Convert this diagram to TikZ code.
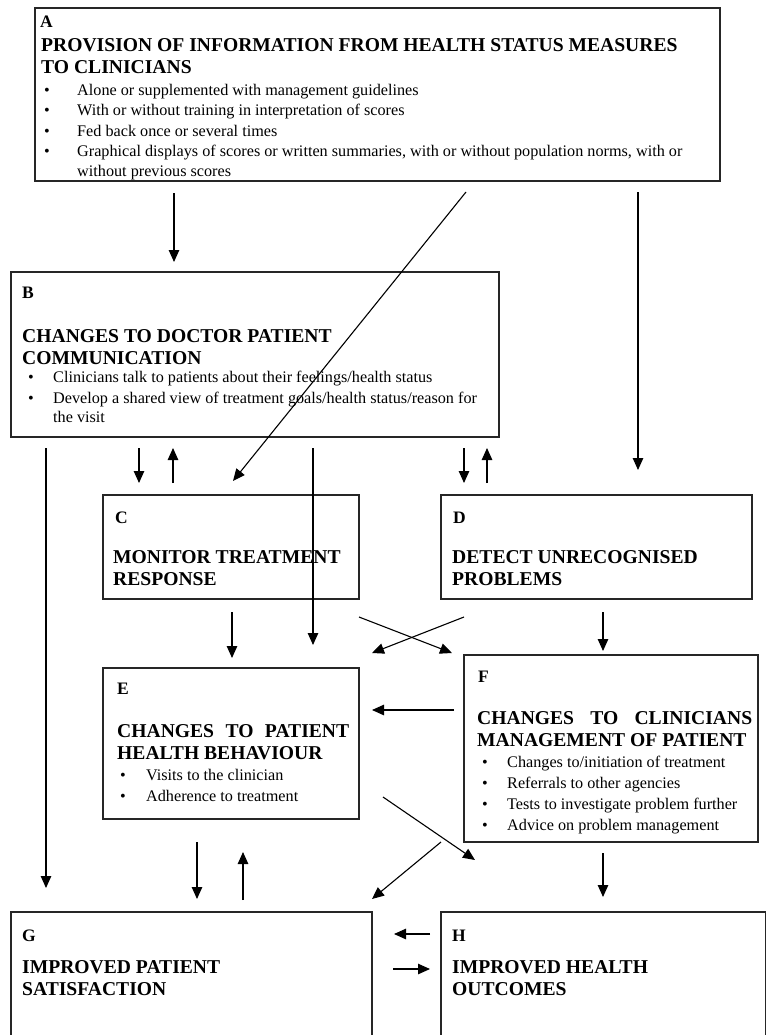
\documentclass[tikz,border=0pt]{standalone}
\usepackage{fontspec}
\setmainfont{Liberation Serif}
\usetikzlibrary{arrows.meta}
\begin{document}
\begin{tikzpicture}[x=1pt,y=-1pt,
  box/.style={draw=black!85, line width=1.4pt, inner sep=0pt, outer sep=0pt},
  arr/.style={line width=1.1pt, -{Triangle[length=12pt,width=10.5pt]}},
  tag/.style={font=\bfseries\fontsize{17.5}{18}\selectfont, anchor=base west, inner sep=0pt},
  head/.style={font=\bfseries\fontsize{19.6}{22}\selectfont, anchor=base west, inner sep=0pt},
  txt/.style={font=\fontsize{16.2}{20}\selectfont, anchor=base west, inner sep=0pt},
]
\useasboundingbox (0,0) rectangle (767,1035);

% ---------- boxes ----------
\node[box, anchor=north west, minimum width=685pt, minimum height=173pt] (A) at (35,8) {};
\node[box, anchor=north west, minimum width=488pt, minimum height=165pt] (B) at (11,272) {};
\node[box, anchor=north west, minimum width=256pt, minimum height=104pt] (C) at (103,495) {};
\node[box, anchor=north west, minimum width=311pt, minimum height=104pt] (D) at (441,495) {};
\node[box, anchor=north west, minimum width=256pt, minimum height=151pt] (E) at (103,668) {};
\node[box, anchor=north west, minimum width=294pt, minimum height=187pt] (F) at (464,655) {};
\node[box, anchor=north west, minimum width=361pt, minimum height=150pt] (G) at (11,912) {};
\node[box, anchor=north west, minimum width=324.5pt, minimum height=150pt] (H) at (441,912) {};

% ---------- A ----------
\node[tag]  (Atag) at (40,28) {A};
\node[head] (Ah1)  at (41,52) {PROVISION OF INFORMATION FROM HEALTH STATUS MEASURES};
\node[head] (Ah2)  at (41,74) {TO CLINICIANS};
\foreach \y [count=\i] in {96,116,137,157}
  \node[txt] (Adot\i) at (44,\y) {•};
\node[txt] (At1) at (77,96)  {Alone or supplemented with management guidelines};
\node[txt] (At2) at (77,116) {With or without training in interpretation of scores};
\node[txt] (At3) at (77,137) {Fed back once or several times};
\node[txt] (At4) at (77,157) {Graphical displays of scores or written summaries, with or without population norms, with or};
\begin{scope}
  \clip (36,9) rectangle (719,180);
  \node[txt] (At5) at (77,177) {without previous scores};
\end{scope}

% ---------- B ----------
\node[tag]  (Btag) at (22,298) {B};
\node[head] (Bh1)  at (22,342) {CHANGES TO DOCTOR PATIENT};
\node[head] (Bh2)  at (22,364) {COMMUNICATION};
\foreach \y [count=\i] in {382,403}
  \node[txt] (Bdot\i) at (28,\y) {•};
\node[txt] (Bt1) at (53,382) {Clinicians talk to patients about their feelings/health status};
\node[txt] (Bt2) at (53,403) {Develop a shared view of treatment goals/health status/reason for};
\node[txt] (Bt3) at (53,422) {the visit};

% ---------- C ----------
\node[tag]  (Ctag) at (115,523) {C};
\node[head] (Ch1)  at (113,563) {MONITOR TREATMENT};
\node[head] (Ch2)  at (113,585) {RESPONSE};

% ---------- D ----------
\node[tag]  (Dtag) at (453,523) {D};
\node[head] (Dh1)  at (452,563) {DETECT UNRECOGNISED};
\node[head] (Dh2)  at (452,585) {PROBLEMS};

% ---------- E ----------
\node[tag]  (Etag) at (117,694) {E};
\node[head] (Eh1)  at (117,737) {\makebox[232pt][s]{CHANGES TO PATIENT}};
\node[head] (Eh2)  at (117,759) {HEALTH BEHAVIOUR};
\foreach \y [count=\i] in {780,801}
  \node[txt] (Edot\i) at (120,\y) {•};
\node[txt] (Et1) at (146,780) {Visits to the clinician};
\node[txt] (Et2) at (146,801) {Adherence to treatment};

% ---------- F ----------
\node[tag]  (Ftag) at (478,682) {F};
\node[head] (Fh1)  at (477,724) {\makebox[275pt][s]{CHANGES TO CLINICIANS}};
\node[head] (Fh2)  at (477,746) {MANAGEMENT OF PATIENT};
\foreach \y [count=\i] in {767,788,809,830}
  \node[txt] (Fdot\i) at (482,\y) {•};
\node[txt] (Ft1) at (507,767) {Changes to/initiation of treatment};
\node[txt] (Ft2) at (507,788) {Referrals to other agencies};
\node[txt] (Ft3) at (507,809) {Tests to investigate problem further};
\node[txt] (Ft4) at (507,830) {Advice on problem management};

% ---------- G ----------
\node[tag]  (Gtag) at (22,941) {G};
\node[head] (Gh1)  at (22,973) {IMPROVED PATIENT};
\node[head] (Gh2)  at (22,995) {SATISFACTION};

% ---------- H ----------
\node[tag]  (Htag) at (452,941) {H};
\node[head] (Hh1)  at (452,973) {IMPROVED HEALTH};
\node[head] (Hh2)  at (452,995) {OUTCOMES};

% ---------- arrow end points ----------
\coordinate (ABs) at (174,193);  \coordinate (ABe) at (174,262);
\coordinate (ACs) at (466,192);  \coordinate (ACe) at (233,481);
\coordinate (ADs) at (638,192);  \coordinate (ADe) at (638,470);
\coordinate (BCs) at (139,448);  \coordinate (BCe) at (139,483);
\coordinate (CBs) at (173,483);  \coordinate (CBe) at (173,448);
\coordinate (BEs) at (313,448);  \coordinate (BEe) at (313,645);
\coordinate (BDs) at (464,448);  \coordinate (BDe) at (464,483);
\coordinate (DBs) at (487,483);  \coordinate (DBe) at (487,448);
\coordinate (BGs) at (46,448);   \coordinate (BGe) at (46,888);
\coordinate (CEs) at (232,612);  \coordinate (CEe) at (232,658);
\coordinate (CFs) at (359,617);  \coordinate (CFe) at (452,653);
\coordinate (DEs) at (464,617);  \coordinate (DEe) at (372,653);
\coordinate (DFs) at (603,612);  \coordinate (DFe) at (603,651);
\coordinate (FEs) at (454,710);  \coordinate (FEe) at (372,710);
\coordinate (EHs) at (383,797);  \coordinate (EHe) at (475,860);
\coordinate (FGs) at (441,842);  \coordinate (FGe) at (372,899);
\coordinate (FHs) at (603,853);  \coordinate (FHe) at (603,897);
\coordinate (EGs) at (197,842);  \coordinate (EGe) at (197,899);
\coordinate (GEs) at (243,900);  \coordinate (GEe) at (243,852);
\coordinate (HGs) at (430,934);  \coordinate (HGe) at (394,934);
\coordinate (GHs) at (393,969);  \coordinate (GHe) at (430,969);

% ---------- arrows ----------
\foreach \p in {AB,AC,AD,BC,CB,BE,BD,DB,BG,CE,CF,DE,DF,FE,EH,FG,FH,EG,GE,HG,GH}
  \draw[arr] (\p s) -- (\p e);
\end{tikzpicture}
\end{document}
